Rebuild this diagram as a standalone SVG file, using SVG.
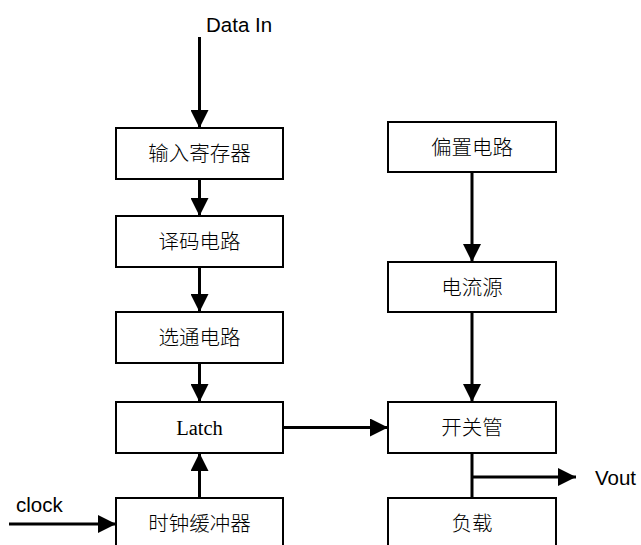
<svg xmlns="http://www.w3.org/2000/svg" width="641" height="545" viewBox="0 0 641 545">
<defs>
<marker id="ah" markerWidth="6" markerHeight="6" refX="6" refY="3" orient="auto" markerUnits="strokeWidth">
<path d="M0,0 L6,3 L0,6 Z" fill="#000"/>
</marker>
<style>
.box{fill:#fff;stroke:#000;stroke-width:2}
.cn{font-family:"Noto Sans CJK SC",sans-serif;font-size:20.5px;font-weight:300;text-anchor:middle;fill:#000}
.lat{font-family:"Liberation Serif",serif;font-size:20.5px;text-anchor:middle;fill:#000}
.lbl{font-family:"Liberation Sans",Arial,sans-serif;font-size:20.5px;fill:#000}
.ln{stroke:#000;stroke-width:3;fill:none}
.ar{stroke:#000;stroke-width:3;fill:none;marker-end:url(#ah)}
</style>
</defs>
<rect width="641" height="545" fill="#fff"/>
<g id="connectors">
<line class="ar" x1="199.5" y1="37" x2="199.5" y2="128"/>
<line class="ar" x1="199.5" y1="179" x2="199.5" y2="216"/>
<line class="ar" x1="199.5" y1="267" x2="199.5" y2="312"/>
<line class="ar" x1="199.5" y1="363" x2="199.5" y2="402"/>
<line class="ar" x1="199.5" y1="498" x2="199.5" y2="453"/>
<line class="ar" x1="9" y1="524" x2="116" y2="524"/>
<line class="ar" x1="283" y1="427.5" x2="388" y2="427.5"/>
<line class="ar" x1="472" y1="172" x2="472" y2="262"/>
<line class="ar" x1="472" y1="312" x2="472" y2="402"/>
<line class="ln" x1="472" y1="453" x2="472" y2="498"/>
<line class="ar" x1="472" y1="477" x2="576" y2="477"/>
</g>
<text class="lbl" x="206" y="32">Data In</text>
<text class="lbl" x="16" y="512">clock</text>
<text class="lbl" x="595" y="485">Vout</text>
<g id="n1"><rect class="box" x="116" y="128" width="167" height="51"/><text class="cn" x="199.5" y="161">输入寄存器</text></g>
<g id="n2"><rect class="box" x="116" y="216" width="167" height="51"/><text class="cn" x="199.5" y="249">译码电路</text></g>
<g id="n3"><rect class="box" x="116" y="312" width="167" height="51"/><text class="cn" x="199.5" y="345">选通电路</text></g>
<g id="n4"><rect class="box" x="116" y="402" width="167" height="51"/><text class="lat" x="199.5" y="435">Latch</text></g>
<g id="n5"><rect class="box" x="116" y="498" width="167" height="60"/><text class="cn" x="199.5" y="531">时钟缓冲器</text></g>
<g id="n6"><rect class="box" x="388" y="122" width="168" height="50"/><text class="cn" x="472" y="155">偏置电路</text></g>
<g id="n7"><rect class="box" x="388" y="262" width="168" height="50"/><text class="cn" x="472" y="295">电流源</text></g>
<g id="n8"><rect class="box" x="388" y="402" width="168" height="51"/><text class="cn" x="472" y="435">开关管</text></g>
<g id="n9"><rect class="box" x="388" y="498" width="168" height="60"/><text class="cn" x="472" y="531">负载</text></g>
</svg>
